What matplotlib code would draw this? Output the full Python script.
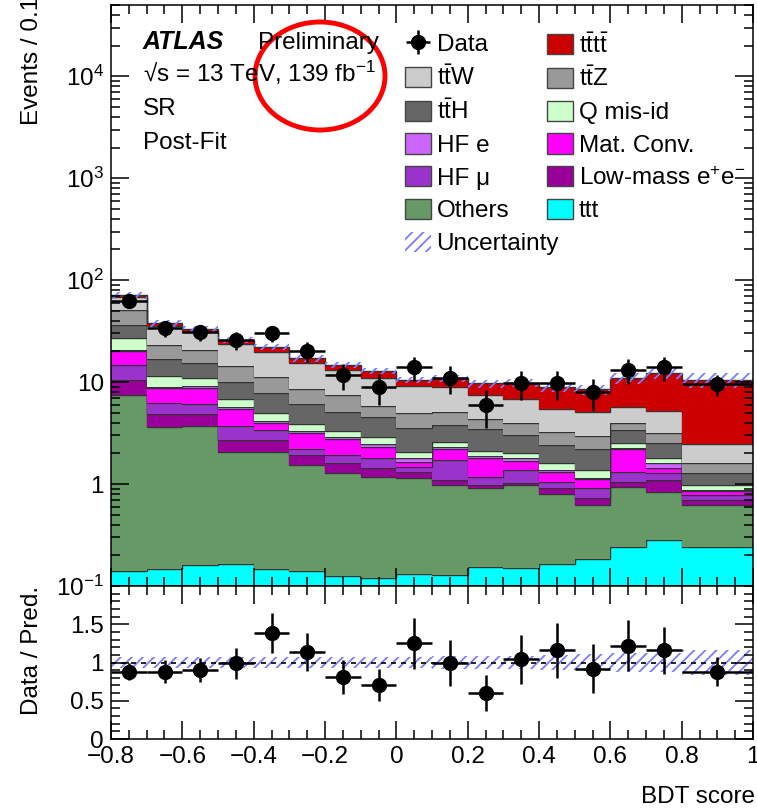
import numpy as np
import matplotlib
matplotlib.use('Agg')
import matplotlib.pyplot as plt
from matplotlib.patches import Patch, Ellipse
from matplotlib.ticker import MultipleLocator, FixedLocator, FixedFormatter, LogLocator, NullFormatter

plt.rcParams['font.family'] = ['Liberation Sans', 'DejaVu Sans']
plt.rcParams['mathtext.fontset'] = 'custom'
plt.rcParams['mathtext.rm'] = 'Liberation Sans'
plt.rcParams['mathtext.it'] = 'Liberation Sans:italic'
plt.rcParams['mathtext.bf'] = 'Liberation Sans:bold'
plt.rcParams['hatch.linewidth'] = 1.3

# DATA
edges = [-0.8, -0.7, -0.6, -0.5, -0.4, -0.3, -0.2, -0.1, 0.0,
         0.1, 0.2, 0.3, 0.4, 0.5, 0.6, 0.7, 0.8, 1.0]

ttt      = [0.138, 0.146, 0.158, 0.163, 0.146, 0.138, 0.123, 0.119, 0.131, 0.126, 0.153, 0.150, 0.164, 0.183, 0.24, 0.282, 0.24]
others   = [7.32, 3.50, 3.54, 1.91, 1.92, 1.40, 1.15, 1.06, 1.01, 0.85, 0.76, 0.83, 0.64, 0.44, 0.70, 0.56, 0.38]
lowmass  = [3.14, 1.21, 1.16, 0.63, 0.63, 0.38, 0.33, 0.25, 0.18, 0.11, 0.07, 0.05, 0.11, 0.10, 0.11, 0.25, 0.08]
hf_mu    = [4.10, 1.32, 1.24, 1.03, 0.68, 0.27, 0.32, 0.36, 0.16, 0.63, 0.20, 0.34, 0.14, 0.19, 0.27, 0.18, 0.08]
mat_conv = [5.60, 2.50, 2.70, 1.77, 0.61, 0.95, 0.83, 0.51, 0.17, 0.48, 0.60, 0.33, 0.25, 0.21, 0.88, 0.16, 0.07]
hf_e     = [0.50, 0.32, 0.30, 0.23, 0.16, 0.19, 0.12, 0.17, 0.14, 0.12, 0.10, 0.09, 0.07, 0.02, 0.04, 0.17, 0.02]
q_misid  = [6.00, 2.50, 1.80, 1.04, 0.78, 0.55, 0.44, 0.40, 0.28, 0.28, 0.24, 0.24, 0.23, 0.23, 0.26, 0.19, 0.11]
tth      = [9.40, 5.20, 4.40, 3.33, 2.92, 2.16, 1.81, 1.70, 1.45, 1.19, 1.32, 0.99, 0.81, 0.82, 0.88, 0.71, 0.29]
ttz      = [14.6, 6.30, 5.30, 4.30, 3.25, 2.44, 2.34, 1.25, 1.41, 1.33, 0.87, 0.92, 0.85, 0.77, 0.61, 0.64, 0.33]
ttw      = [17.2, 12.6, 10.5, 9.50, 8.50, 6.80, 5.60, 5.10, 4.30, 3.75, 3.15, 2.83, 2.17, 2.16, 1.66, 2.10, 0.87]
tttt     = [3.00, 2.00, 2.00, 1.90, 2.60, 1.80, 1.60, 1.90, 1.30, 2.10, 2.24, 3.07, 3.44, 3.36, 5.25, 6.96, 8.00]

data     = [62, 33.8, 31, 25.8, 30.3, 20.1, 11.7, 8.9, 14.0, 11.0, 5.95, 9.8, 9.8, 8.0, 13.1, 14.0, 9.5]
data_err = [7.9, 5.8, 5.6, 5.1, 5.5, 4.5, 3.4, 3.0, 3.7, 3.3, 2.4, 3.1, 3.1, 2.8, 3.6, 3.7, 2.2]
ratio     = [0.88, 0.88, 0.90, 0.99, 1.39, 1.14, 0.81, 0.71, 1.25, 0.99, 0.60, 1.04, 1.16, 0.92, 1.22, 1.16, 0.88]
ratio_err = [0.11, 0.15, 0.16, 0.20, 0.26, 0.25, 0.22, 0.21, 0.33, 0.30, 0.24, 0.32, 0.36, 0.32, 0.33, 0.31, 0.19]
rel_unc   = [0.07, 0.07, 0.07, 0.07, 0.07, 0.07, 0.07, 0.07, 0.07, 0.08, 0.09, 0.09, 0.10, 0.11, 0.13, 0.13, 0.16]

# stack, bottom to top
stack = [
    ('ttt', ttt, '#00ffff'),
    ('Others', others, '#669966'),
    (r'Low-mass $\mathrm{e^{+}e^{-}}$', lowmass, '#990099'),
    ('HF μ', hf_mu, '#9933cc'),
    ('Mat. Conv.', mat_conv, '#ff00ff'),
    ('HF e', hf_e, '#cc66ff'),
    ('Q mis-id', q_misid, '#ccffcc'),
    (r'$\mathrm{t\bar{t}H}$', tth, '#666666'),
    (r'$\mathrm{t\bar{t}Z}$', ttz, '#999999'),
    (r'$\mathrm{t\bar{t}W}$', ttw, '#cccccc'),
    (r'$\mathrm{t\bar{t}t\bar{t}}$', tttt, '#cc0000'),
]

edges = np.array(edges)
centers = 0.5 * (edges[1:] + edges[:-1])
halfw = 0.5 * (edges[1:] - edges[:-1])

W, H = 757, 809
FS = 17.5
fig = plt.figure(figsize=(W / 100, H / 100), dpi=100)

def px(x, y):
    return x / W, 1 - y / H

left, right = 111 / W, 753 / W
ax = fig.add_axes([left, 1 - 586 / H, right - left, (586 - 5) / H])
rax = fig.add_axes([left, 1 - 739 / H, right - left, (739 - 586) / H], sharex=ax)

handles = {}
base = np.full(len(centers), 1e-3)
for name, vals, col in stack:
    top = base + np.array(vals)
    ax.stairs(top, edges, baseline=base, fill=True, facecolor=col, edgecolor='none')
    ax.stairs(top, edges, baseline=None, color='#333333', lw=1.0)
    handles[name] = Patch(facecolor=col, edgecolor='#444444', lw=1.0)
    base = top
total = base

unc = np.array(rel_unc)
ax.stairs(total * (1 + unc), edges, baseline=total * (1 - unc), fill=True,
          facecolor='none', edgecolor='#7b7bff', hatch='///', lw=0)

eb = ax.errorbar(centers, data, xerr=halfw, yerr=data_err, fmt='o', color='black',
                 ms=10, elinewidth=1.8, capsize=0)

ax.set_yscale('log')
ax.set_ylim(0.1, 5e4)
ax.set_xlim(-0.8, 1.0)

# ratio panel
rax.stairs(1 + unc, edges, baseline=1 - unc, fill=True, facecolor='none',
           edgecolor='#7b7bff', hatch='///', lw=0)
rax.axhline(1.0, color='black', ls=(0, (3, 3)), lw=1.2)
rax.errorbar(centers, ratio, xerr=halfw, yerr=ratio_err, fmt='o', color='black',
             ms=10, elinewidth=1.8, capsize=0)
rax.set_ylim(0, 2)

# ticks
for a in (ax, rax):
    a.tick_params(which='both', direction='in', top=True, right=True, labelsize=FS, width=1.1)
    a.tick_params(which='major', length=13)
    a.tick_params(which='minor', length=6.5)
    for s in a.spines.values():
        s.set_linewidth(1.1)
    a.xaxis.set_major_locator(MultipleLocator(0.2))
    a.xaxis.set_minor_locator(MultipleLocator(0.05))

ax.tick_params(axis='x', labelbottom=False)
ax.yaxis.set_major_locator(FixedLocator([0.1, 1, 10, 100, 1e3, 1e4]))
ax.yaxis.set_major_formatter(FixedFormatter([r'$10^{-1}$', '1', '10', r'$10^{2}$', r'$10^{3}$', r'$10^{4}$']))
ax.yaxis.set_minor_locator(LogLocator(base=10, subs=np.arange(2, 10), numticks=20))
ax.yaxis.set_minor_formatter(NullFormatter())
ax.tick_params(axis='y', pad=5)

rax.yaxis.set_major_locator(FixedLocator([0, 0.5, 1.0, 1.5]))
rax.yaxis.set_major_formatter(FixedFormatter(['0', '0.5', '1', '1.5']))
rax.yaxis.set_minor_locator(MultipleLocator(0.1))
xt = [-0.8, -0.6, -0.4, -0.2, 0, 0.2, 0.4, 0.6, 0.8, 1.0]
rax.xaxis.set_major_locator(FixedLocator(xt))
rax.xaxis.set_major_formatter(FixedFormatter(['−0.8', '−0.6', '−0.4', '−0.2', '0', '0.2', '0.4', '0.6', '0.8', '1']))
rax.tick_params(axis='x', pad=5)
rax.tick_params(axis='y', pad=5)

fig.text(*px(755, 803), 'BDT score', ha='right', va='baseline', fontsize=FS)
fig.text(*px(32, -3), 'Events / 0.1', rotation=90, ha='center', va='top', fontsize=FS)
fig.text(*px(32, 650), 'Data / Pred.', rotation=90, ha='center', va='center', fontsize=FS)

# labels
fig.text(*px(143, 49), 'ATLAS', fontsize=FS + 0.5, fontweight='bold', fontstyle='italic', va='baseline')
fig.text(*px(258, 49), 'Preliminary', fontsize=FS, va='baseline')
fig.text(*px(143, 82), r'√s = 13 TeV, 139 fb$^{-1}$', fontsize=FS, va='baseline')
fig.text(*px(143, 115), 'SR', fontsize=FS, va='baseline')
fig.text(*px(143, 149), 'Post-Fit', fontsize=FS, va='baseline')

# legend in two separate columns
unc_patch = Patch(facecolor='none', edgecolor='#7b7bff', hatch='///', lw=0)
col1 = [
    (eb, 'Data'),
    (handles[r'$\mathrm{t\bar{t}W}$'], r'$\mathrm{t\bar{t}W}$'),
    (handles[r'$\mathrm{t\bar{t}H}$'], r'$\mathrm{t\bar{t}H}$'),
    (handles['HF e'], 'HF e'),
    (handles['HF μ'], 'HF μ'),
    (handles['Others'], 'Others'),
    (unc_patch, 'Uncertainty'),
]
col2 = [
    (handles[r'$\mathrm{t\bar{t}t\bar{t}}$'], r'$\mathrm{t\bar{t}t\bar{t}}$'),
    (handles[r'$\mathrm{t\bar{t}Z}$'], r'$\mathrm{t\bar{t}Z}$'),
    (handles['Q mis-id'], 'Q mis-id'),
    (handles['Mat. Conv.'], 'Mat. Conv.'),
    (handles[r'Low-mass $\mathrm{e^{+}e^{-}}$'], r'Low-mass $\mathrm{e^{+}e^{-}}$'),
    (handles['ttt'], 'ttt'),
]
leg_kw = dict(frameon=False, loc='upper left', fontsize=FS, handlelength=1.05,
              handleheight=0.9, handletextpad=0.25, labelspacing=0.38,
              borderpad=0, borderaxespad=0)
y_top = 1 - (33 - 5) / 581
leg1 = ax.legend([h for h, _ in col1], [l for _, l in col1],
                 bbox_to_anchor=((405 - 111) / 642, y_top), **leg_kw)
ax.add_artist(leg1)
ax.legend([h for h, _ in col2], [l for _, l in col2],
          bbox_to_anchor=((547 - 111) / 642, y_top), **leg_kw)

fig.add_artist(Ellipse(px(320, 76), 130 / W, 108 / H, transform=fig.transFigure,
                       fill=False, edgecolor='red', lw=3.5))

fig.savefig('out.png', dpi=100)
